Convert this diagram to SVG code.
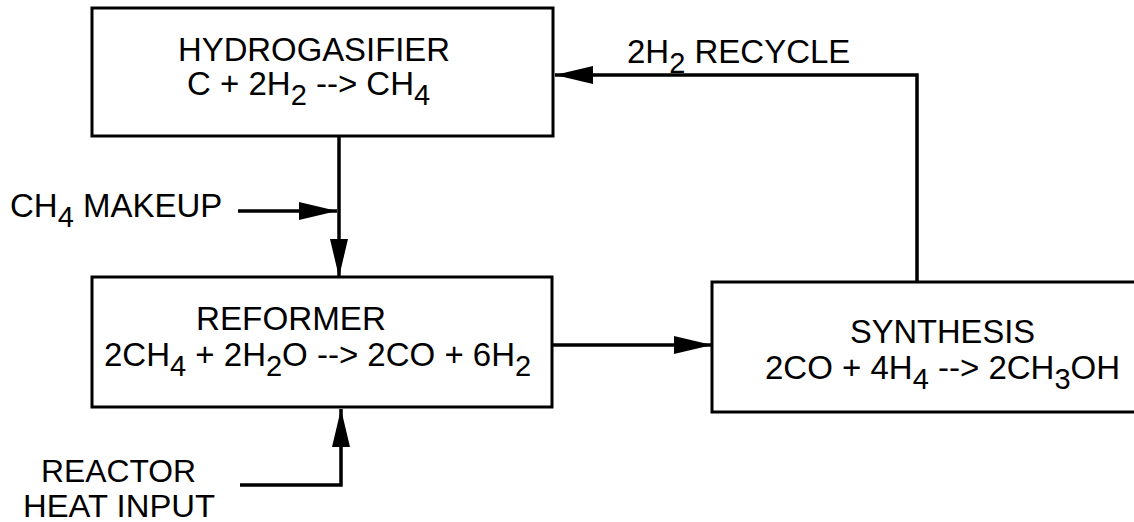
<svg xmlns="http://www.w3.org/2000/svg" width="1134" height="522" viewBox="0 0 1134 522">
  <style>
    .box { fill: #ffffff; stroke: #000000; stroke-width: 3; }
    .conn { fill: none; stroke: #000000; stroke-width: 3.5; }
    .t { font-family: "Liberation Sans", Arial, Helvetica, sans-serif; font-size: 33px; fill: #000000; }
    .sm { font-size: 31px; }
    .sub { font-size: 29px; }
  </style>
  <defs>
    <marker id="arrow" viewBox="0 -10 40 20" refX="38" refY="0" markerWidth="40" markerHeight="20" markerUnits="userSpaceOnUse" orient="auto">
      <path d="M0,-9 L38,0 L0,9 z" fill="#000000"/>
    </marker>
  </defs>
  <rect width="1134" height="522" fill="#ffffff"/>

  <g id="connectors">
    <line class="conn" x1="339" y1="136" x2="339" y2="277" marker-end="url(#arrow)"/>
    <line class="conn" x1="238" y1="211" x2="337" y2="211" marker-end="url(#arrow)"/>
    <path class="conn" d="M240,485 L341,485 L341,409" marker-end="url(#arrow)"/>
    <line class="conn" x1="552" y1="345" x2="712" y2="345" marker-end="url(#arrow)"/>
    <path class="conn" d="M917,282 L917,75 L555,75" marker-end="url(#arrow)"/>
  </g>

  <g id="hydrogasifier">
    <rect class="box" x="92" y="8" width="461" height="128"/>
    <text class="t" x="178" y="61" textLength="272" lengthAdjust="spacingAndGlyphs">HYDROGASIFIER</text>
    <text class="t" x="187" y="95">C + 2H<tspan class="sub" dy="10">2</tspan><tspan dy="-10"> --&gt; CH</tspan><tspan class="sub" dy="10">4</tspan></text>
  </g>

  <g id="reformer">
    <rect class="box" x="92" y="277" width="460" height="130"/>
    <text class="t" x="196" y="330" textLength="190" lengthAdjust="spacingAndGlyphs">REFORMER</text>
    <text class="t" x="104" y="366">2CH<tspan class="sub" dy="10">4</tspan><tspan dy="-10"> + 2H</tspan><tspan class="sub" dy="10">2</tspan><tspan dy="-10">O --&gt; 2CO + 6H</tspan><tspan class="sub" dy="10">2</tspan></text>
  </g>

  <g id="synthesis">
    <rect class="box" x="712" y="282" width="450" height="130"/>
    <text class="t" x="850" y="343" textLength="185" lengthAdjust="spacingAndGlyphs">SYNTHESIS</text>
    <text class="t" x="765" y="379">2CO + 4H<tspan class="sub" dy="10">4</tspan><tspan dy="-10"> --&gt; 2CH</tspan><tspan class="sub" dy="10">3</tspan><tspan dy="-10">OH</tspan></text>
  </g>

  <g id="ch4-makeup">
    <text class="t" x="10" y="217">CH<tspan class="sub" dy="10">4</tspan><tspan dy="-10"> MAKEUP</tspan></text>
  </g>

  <g id="reactor-heat-input">
    <text class="t sm" x="41" y="482" textLength="155" lengthAdjust="spacingAndGlyphs">REACTOR</text>
    <text class="t sm" x="23" y="517" textLength="192" lengthAdjust="spacingAndGlyphs">HEAT INPUT</text>
  </g>

  <g id="recycle-label">
    <text class="t" x="627" y="63">2H<tspan class="sub" dy="10">2</tspan><tspan dy="-10"> RECYCLE</tspan></text>
  </g>
</svg>
